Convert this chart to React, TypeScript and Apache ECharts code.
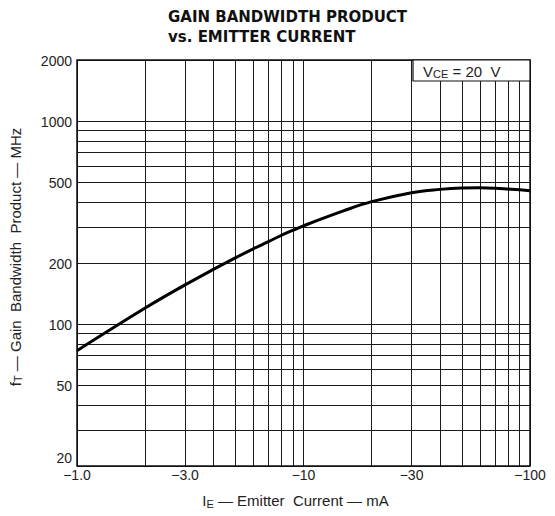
import React, { useEffect, useRef } from 'react';
import * as echarts from 'echarts';

const currentMA = [1, 2, 3, 4, 5, 6, 7, 8, 9, 10, 15, 20, 30, 40, 50, 60, 70, 80, 90, 100];
const gainMHz = [74, 120, 156, 186, 212, 235, 255, 274, 290, 305, 361, 401, 444, 461, 468, 469, 467, 463, 459, 454];

const xGrid = [1, 2, 3, 4, 5, 6, 7, 8, 9, 10, 20, 30, 40, 50, 60, 70, 80, 90, 100];
const yGrid = [20, 30, 40, 50, 60, 70, 80, 90, 100, 200, 300, 400, 500, 600, 700, 800, 900, 1000, 2000];

const xTickValues = [1, 3, 10, 30, 100];
const xTickText = ['\u22121.0', '\u22123.0', '\u221210', '\u221230', '\u2212100'];
const yTickValues = [20, 50, 100, 200, 500, 1000, 2000];

const titleLines = ['GAIN BANDWIDTH PRODUCT', 'vs. EMITTER CURRENT'];

const FONT = '"Liberation Sans", Arial, sans-serif';

export default function App() {
  const ref = useRef<HTMLDivElement>(null);
  useEffect(() => {
    if (!ref.current) return;
    const chart = echarts.init(ref.current, undefined, { renderer: 'svg' });
    chart.setOption({
      animation: false,
      backgroundColor: '#fff',
      grid: { left: 77, right: 25, top: 60, bottom: 50, show: true, borderColor: '#111', borderWidth: 1.5, backgroundColor: 'transparent', z: 20 },
      xAxis: {
        type: 'log', logBase: 10, min: 1, max: 100,
        axisLine: { show: false }, axisTick: { show: false }, axisLabel: { show: false }, splitLine: { show: false },
      },
      yAxis: {
        type: 'log', logBase: 10, min: 20, max: 2000,
        axisLine: { show: false }, axisTick: { show: false }, axisLabel: { show: false }, splitLine: { show: false },
      },
      series: [
        {
          type: 'line',
          data: currentMA.map((x, i) => [x, gainMHz[i]]),
          smooth: 0.4,
          symbol: 'none',
          lineStyle: { color: '#000', width: 3 },
          z: 10,
          markLine: {
            silent: true,
            z: 1,
            symbol: ['none', 'none'],
            label: { show: false },
            lineStyle: { color: '#1a1a1a', width: 1, type: 'solid' },
            emphasis: { disabled: true },
            data: [...xGrid.map((v) => ({ xAxis: v })), ...yGrid.map((v) => ({ yAxis: v }))],
          },
        },
      ],
    });

    const px = (x: number, y: number) => chart.convertToPixel({ gridIndex: 0 }, [x, y]) as number[];
    const [left, bottom] = px(1, 20);
    const [right, top] = px(100, 2000);
    const midX = (left + right) / 2;
    const midY = (top + bottom) / 2;

    const graphics: any[] = [];
    yTickValues.forEach((v) => {
      const p = px(1, v);
      const y = v === 20 ? p[1] - 8 : p[1] + 1;
      graphics.push({
        type: 'text', x: left - 5, y, z: 100,
        style: { text: String(v), font: `14px ${FONT}`, fill: '#222', align: 'right', verticalAlign: 'middle' },
      });
    });
    xTickValues.forEach((v, i) => {
      const p = px(v, 20);
      graphics.push({
        type: 'text', x: p[0], y: bottom + 9, z: 100,
        style: { text: xTickText[i], font: `14px ${FONT}`, fill: '#222', align: 'center', verticalAlign: 'middle' },
      });
    });
    titleLines.forEach((t, i) => {
      graphics.push({
        type: 'text', x: 168, y: 17 + i * 20, z: 100,
        style: { text: t, font: `bold 15px "DejaVu Sans", sans-serif`, fill: '#111', align: 'left', verticalAlign: 'middle' },
      });
    });
    graphics.push({
      type: 'text', x: 15, y: midY - 6, rotation: Math.PI / 2, z: 100,
      style: {
        text: '{a|f}{s|T}{a| \u2014 Gain  Bandwidth  Product \u2014 MHz}',
        align: 'center', verticalAlign: 'middle',
        rich: {
          a: { font: `15px ${FONT}`, fill: '#222' },
          s: { font: `11px ${FONT}`, fill: '#222', padding: [6, 0, 0, 0] },
        },
      },
    });
    graphics.push({
      type: 'text', x: midX - 8, y: 500, z: 100,
      style: {
        text: '{a|I}{s|E}{a| \u2014 Emitter  Current \u2014 mA}',
        align: 'center', verticalAlign: 'middle',
        rich: {
          a: { font: `15px ${FONT}`, fill: '#222' },
          s: { font: `11px ${FONT}`, fill: '#222', padding: [8, 0, 0, 0] },
        },
      },
    });
    graphics.push({
      type: 'rect', z: 90,
      shape: { x: 413, y: top, width: right - 413, height: 21 },
      style: { fill: '#fff', stroke: '#111', lineWidth: 1.2 },
    });
    graphics.push({
      type: 'text', x: 423, y: top + 11, z: 100,
      style: {
        text: '{a|V}{s|CE}{a| = 20  V}',
        align: 'left', verticalAlign: 'middle',
        rich: {
          a: { font: `15px ${FONT}`, fill: '#222' },
          s: { font: `11px ${FONT}`, fill: '#222', padding: [6, 0, 0, 0] },
        },
      },
    });
    chart.setOption({ graphic: graphics });

    return () => chart.dispose();
  }, []);
  return <div ref={ref} style={{ position: 'fixed', left: 0, top: 0, width: 555, height: 516 }} />;
}
